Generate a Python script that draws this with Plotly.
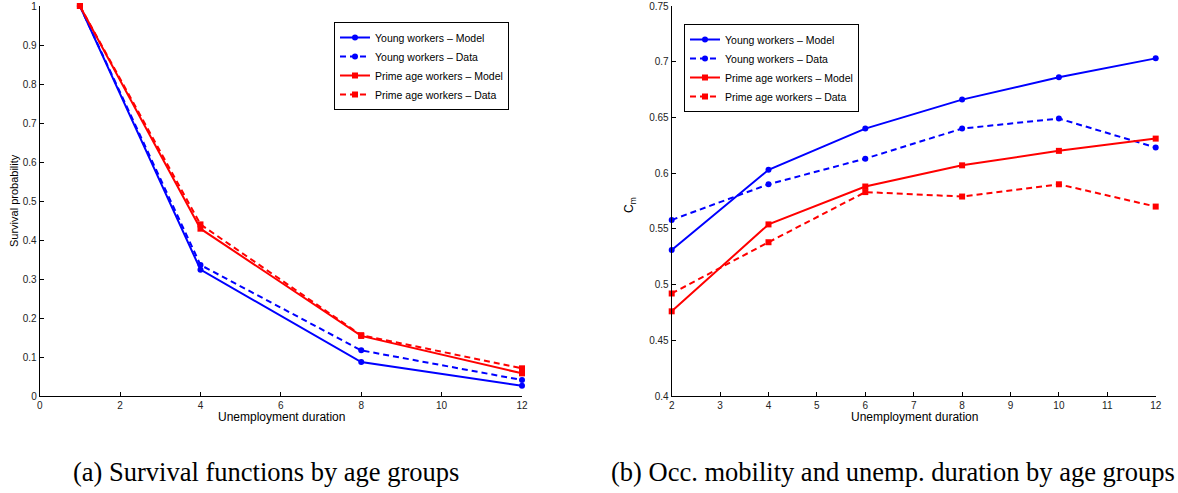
import plotly.graph_objects as go

# ---- data ----
surv_x = [1, 4, 8, 12]
surv_young_model = [1.0, 0.324, 0.087, 0.026]
surv_young_data = [1.0, 0.336, 0.117, 0.041]
surv_prime_model = [1.0, 0.429, 0.154, 0.058]
surv_prime_data = [1.0, 0.440, 0.156, 0.071]

mob_x = [2, 4, 6, 8, 10, 12]
mob_young_model = [0.531, 0.603, 0.640, 0.666, 0.686, 0.703]
mob_young_data = [0.558, 0.590, 0.613, 0.640, 0.649, 0.623]
mob_prime_model = [0.476, 0.554, 0.588, 0.607, 0.620, 0.631]
mob_prime_data = [0.492, 0.538, 0.583, 0.579, 0.590, 0.570]

series_names = ["Young workers \u2013 Model", "Young workers \u2013 Data",
                "Prime age workers \u2013 Model", "Prime age workers \u2013 Data"]

left_xticks = [0, 2, 4, 6, 8, 10, 12]
left_yticks = [0, 0.1, 0.2, 0.3, 0.4, 0.5, 0.6, 0.7, 0.8, 0.9, 1]
right_xticks = [2, 3, 4, 5, 6, 7, 8, 9, 10, 11, 12]
right_yticks = [0.4, 0.45, 0.5, 0.55, 0.6, 0.65, 0.7, 0.75]

caption_a = "(a) Survival functions by age groups"
caption_b = "(b) Occ. mobility and unemp. duration by age groups"

# ---- styles ----
BLUE = "rgb(0,0,255)"
RED = "rgb(255,0,0)"
styles = [
    dict(color=BLUE, dash="solid", symbol="circle"),
    dict(color=BLUE, dash="6px,4px", symbol="circle"),
    dict(color=RED, dash="solid", symbol="square"),
    dict(color=RED, dash="6px,4px", symbol="square"),
]

SANS = "Liberation Sans, Arial, Helvetica, sans-serif"
SERIF = "Liberation Serif, Times New Roman, serif"

W, H = 1178, 493


def px(x):
    return x / W


def py(y):
    return (H - y) / H


fig = go.Figure()

left_series = [surv_young_model, surv_young_data, surv_prime_model, surv_prime_data]
right_series = [mob_young_model, mob_young_data, mob_prime_model, mob_prime_data]

for name, ys, st in zip(series_names, left_series, styles):
    fig.add_trace(go.Scatter(
        x=surv_x, y=ys, name=name, mode="lines+markers",
        line=dict(color=st["color"], dash=st["dash"], width=2),
        marker=dict(color=st["color"], symbol=st["symbol"], size=6),
        xaxis="x", yaxis="y", legend="legend", cliponaxis=False,
    ))

for name, ys, st in zip(series_names, right_series, styles):
    fig.add_trace(go.Scatter(
        x=mob_x, y=ys, name=name, mode="lines+markers",
        line=dict(color=st["color"], dash=st["dash"], width=2),
        marker=dict(color=st["color"], symbol=st["symbol"], size=6),
        xaxis="x2", yaxis="y2", legend="legend2", cliponaxis=False,
    ))

ydom = [py(396), py(6)]

axis_common = dict(
    showline=True, linecolor="black", linewidth=1, mirror=False,
    ticks="inside", ticklen=4, tickwidth=1, tickcolor="black",
    showgrid=False, zeroline=False, automargin=False,
    tickfont=dict(family=SANS, size=10, color="#222"),
)

legend_common = dict(
    bgcolor="white", bordercolor="black", borderwidth=1,
    font=dict(family=SANS, size=10.5, color="black"),
    xanchor="left", yanchor="top", itemwidth=30, tracegroupgap=0,
)

fig.update_layout(
    width=W, height=H,
    margin=dict(l=0, r=0, t=0, b=0),
    paper_bgcolor="white", plot_bgcolor="white",
    xaxis=dict(domain=[px(39.7), px(522)], range=[0, 12], tickvals=left_xticks,
               anchor="y", **axis_common),
    yaxis=dict(domain=ydom, range=[0, 1], tickvals=left_yticks, anchor="x",
               **axis_common),
    xaxis2=dict(domain=[px(671.7), px(1155.7)], range=[2, 12], tickvals=right_xticks,
                anchor="y2", **axis_common),
    yaxis2=dict(domain=ydom, range=[0.4, 0.75], tickvals=right_yticks, anchor="x2",
                **axis_common),
    legend=dict(x=px(334), y=py(22), **legend_common),
    legend2=dict(x=px(684), y=py(24), **legend_common),
    showlegend=True,
)

ann_font = dict(family=SANS, size=12, color="black")
annotations = [
    dict(text="Unemployment duration", x=px(281), y=py(417), xref="paper", yref="paper",
         showarrow=False, font=ann_font, xanchor="center", yanchor="middle"),
    dict(text="Unemployment duration", x=px(914), y=py(417), xref="paper", yref="paper",
         showarrow=False, font=ann_font, xanchor="center", yanchor="middle"),
    dict(text="Survival probability", x=px(14), y=py(201), xref="paper", yref="paper",
         showarrow=False, font=dict(family=SANS, size=11, color="black"), textangle=-90,
         xanchor="center", yanchor="middle"),
    dict(text="C<sub>m</sub>", x=px(630), y=py(205), xref="paper", yref="paper",
         showarrow=False, font=ann_font, textangle=-90, xanchor="center", yanchor="middle"),
    dict(text=caption_a, x=px(71), y=py(472), xref="paper", yref="paper",
         showarrow=False, font=dict(family=SERIF, size=26.5, color="black"),
         xanchor="left", yanchor="middle"),
    dict(text=caption_b, x=px(609), y=py(472), xref="paper", yref="paper",
         showarrow=False, font=dict(family=SERIF, size=26.5, color="black"),
         xanchor="left", yanchor="middle"),
]
fig.update_layout(annotations=annotations)

fig.write_html("out.html", config={"displayModeBar": False},
               post_script="document.body.style.margin='0px';")
